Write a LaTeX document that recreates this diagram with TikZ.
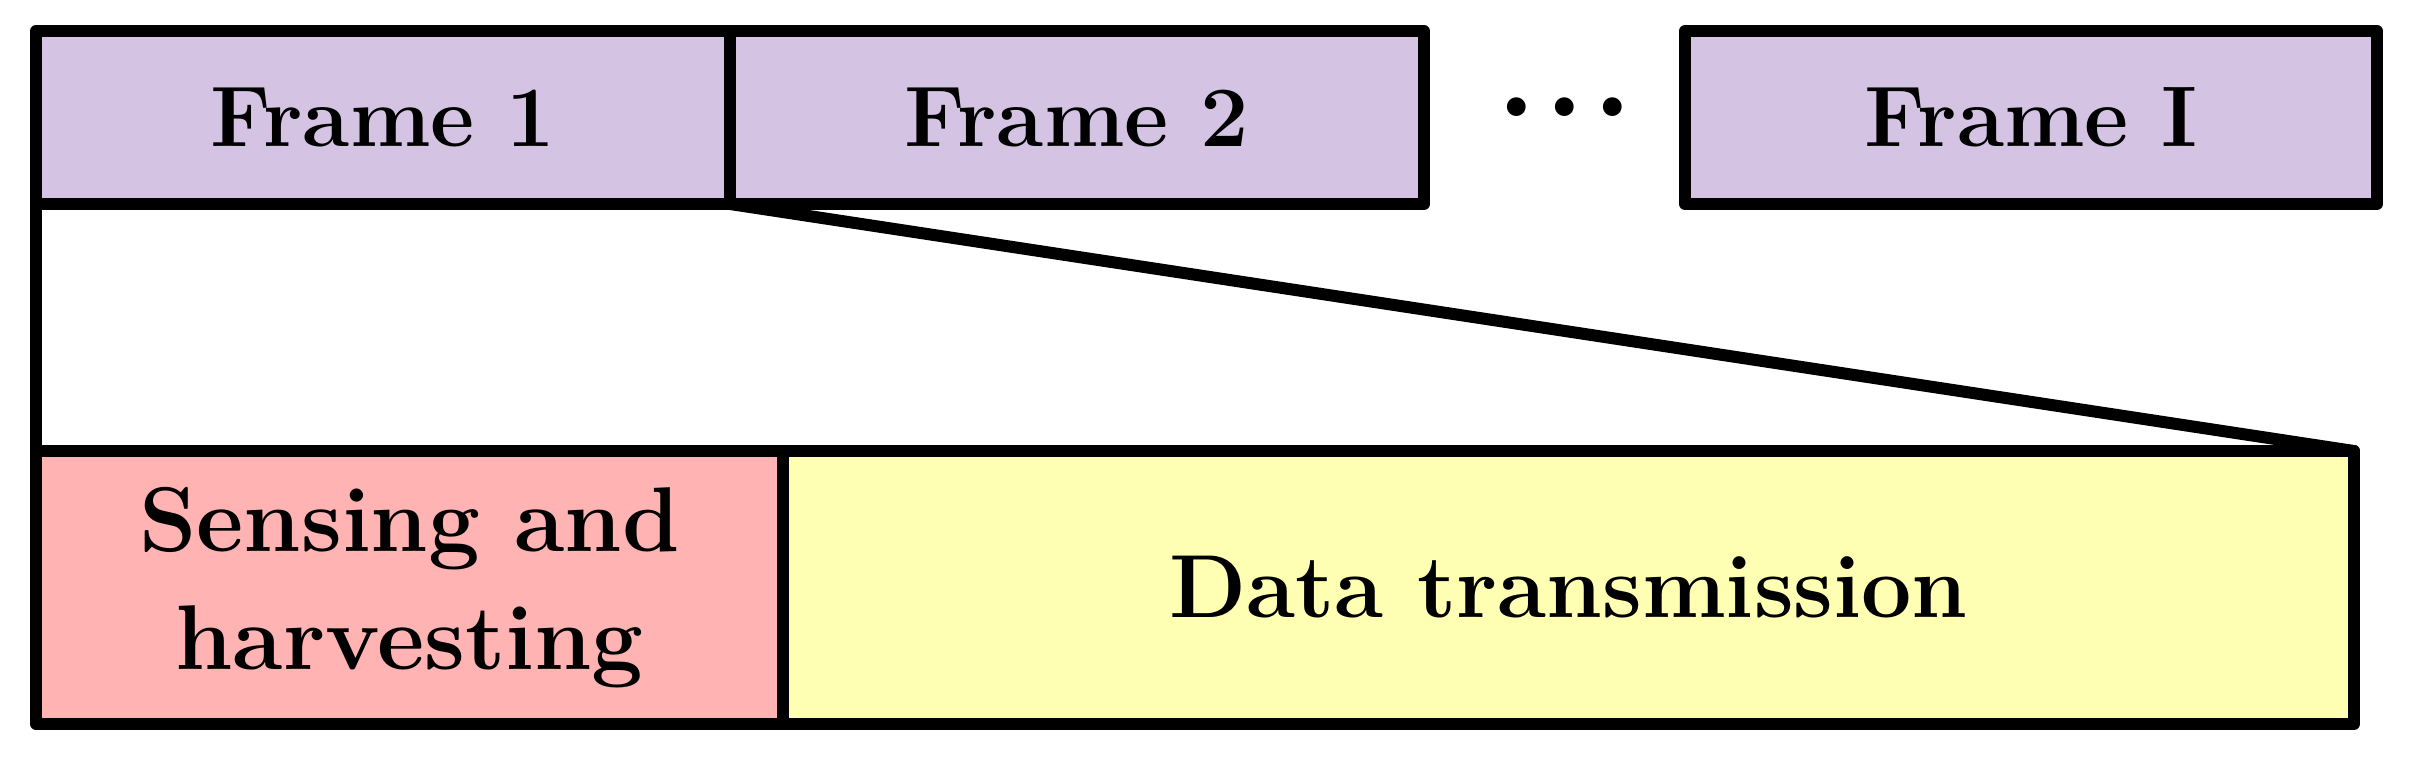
\documentclass[tikz,border=0pt]{standalone}
\usepackage{fontspec}
\definecolor{lav}{HTML}{D4C3E3}
\definecolor{pinkf}{HTML}{FFB3B3}
\definecolor{yel}{HTML}{FFFFB3}
\begin{document}
\begin{tikzpicture}[x=1pt,y=-1pt,
  box/.style={draw=black,line width=12pt,line join=round,inner sep=0pt,outer sep=0pt,anchor=north west,align=center},
  framebox/.style={box,fill=lav,minimum height=173pt,font=\bfseries\fontsize{86}{100}\selectfont},
  lowbox/.style={box,minimum height=273pt,font=\bfseries\fontsize{92}{118}\selectfont},
  conn/.style={draw=black,line width=12pt,line cap=round}]
\useasboundingbox (0,0) rectangle (2415,760);
\node[framebox,minimum width=694pt] (f1) at (36,31) {Frame 1};
\node[framebox,minimum width=694pt] (f2) at (730,31) {Frame 2};
\node[framebox,minimum width=692pt] (fI) at (1685,31) {Frame I};
\node[anchor=base,inner sep=0pt,outer sep=0pt,font=\bfseries\fontsize{130}{130}\selectfont] (dots) at (1565,116) {.\kern7.5pt.\kern7.5pt.};
\node[lowbox,fill=pinkf,minimum width=747pt] (sh) at (36,451) {Sensing and\\harvesting};
\node[lowbox,fill=yel,minimum width=1571pt,font=\bfseries\fontsize{89.5}{110}\selectfont] (dt) at (783,451) {Data transmission};
\draw[conn] (f1.south west) -- (sh.north west);
\draw[conn] (f1.south east) -- (dt.north east);
\end{tikzpicture}
\end{document}
